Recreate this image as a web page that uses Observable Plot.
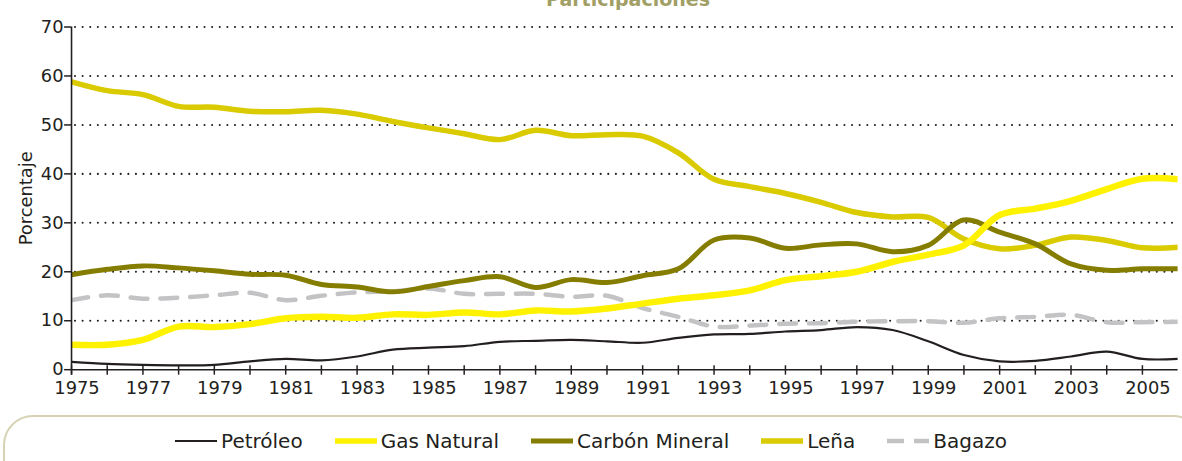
<!DOCTYPE html>
<html>
<head>
<meta charset="utf-8">
<script src="https://cdn.jsdelivr.net/npm/d3@7"></script>
<script src="https://cdn.jsdelivr.net/npm/@observablehq/plot@0.6"></script>
<style>
  html, body { margin: 0; padding: 0; background: #fff; overflow: hidden; width: 1182px; height: 461px; }
  #wrap { position: relative; width: 1182px; height: 461px; overflow: hidden; font-family: "DejaVu Sans", sans-serif; }
  #title { position: absolute; left: 0; width: 1256px; top: -10px; text-align: center; font-weight: bold; font-size: 19px; line-height: 19px; color: #a29f66; }
  #chart { position: absolute; left: 0; top: 0; }
  #legendBox { position: absolute; left: 3px; top: 415px; width: 1200px; height: 100px; box-sizing: border-box; border: 2.5px solid #d6d3b5; border-radius: 30px; }
  #legend { position: absolute; left: 0; top: 428px; width: 1182px; height: 26px; display: flex; justify-content: center; align-items: center; font-size: 20px; color: #231f20; }
  .item { display: flex; align-items: center; margin: 0 16px; }
  .item svg { margin-right: 4px; }
</style>
</head>
<body>
<div id="wrap">
  <div id="chart"></div>
  <div id="title">Participaciones</div>
  <div id="legendBox"></div>
  <div id="legend"></div>
</div>
<script>
// ---- data ----
const years = [1975,1976,1977,1978,1979,1980,1981,1982,1983,1984,1985,1986,1987,1988,1989,1990,
               1991,1992,1993,1994,1995,1996,1997,1998,1999,2000,2001,2002,2003,2004,2005,2006];
const petroleo      = [1.6,1.2,1.0,0.9,1.0,1.7,2.2,1.9,2.7,4.1, 4.5,4.8,5.7,5.9,6.1,5.8,5.5,6.5,7.2,7.3, 7.8,8.1,8.7,8.1,5.8,3.0,1.7,1.8,2.7,3.7, 2.2,2.2];
const gasNatural    = [5.1,5.1,6.1,8.8,8.7,9.3,10.5,10.8,10.6,11.3, 11.2,11.7,11.3,12.1,11.9,12.5,13.5,14.5,15.2,16.2, 18.3,19.1,20.0,22.0,23.5,25.4,31.6,32.9,34.5,36.9, 39.0,38.9];
const carbonMineral = [19.4,20.5,21.2,20.8,20.2,19.5,19.3,17.4,16.9,15.9, 17.0,18.2,19.0,16.8,18.4,17.8,19.2,20.6,26.5,26.9, 24.8,25.5,25.7,24.1,25.4,30.6,28.1,25.7,21.6,20.3, 20.6,20.6];
const lena          = [58.8,57.0,56.2,53.8,53.6,52.8,52.7,53.0,52.2,50.7, 49.4,48.2,47.0,48.9,47.8,48.0,47.7,44.3,38.9,37.4, 36.0,34.2,32.1,31.2,31.1,26.7,24.7,25.4,27.1,26.4, 24.9,25.0];
const bagazo        = [14.2,15.2,14.5,14.7,15.2,15.7,14.2,15.1,15.8,16.0, 16.6,15.5,15.5,15.5,14.9,15.1,12.6,10.8,8.8,9.0, 9.4,9.5,9.8,9.9,9.9,9.6,10.5,10.8,11.2,9.7, 9.7,9.8];
const seriesNames   = ["Petróleo", "Gas Natural", "Carbón Mineral", "Leña", "Bagazo"];
const yTicks        = [0,10,20,30,40,50,60,70];
const gridValues    = [10,20,30,40,50,60,70];
const xTickYears    = years.slice(0, 31);
const xLabelYears   = [1975,1977,1979,1981,1983,1985,1987,1989,1991,1993,1995,1997,1999,2001,2003,2005];

// ---- styles ----
const valuesBySeries = {"Petróleo": petroleo, "Gas Natural": gasNatural, "Carbón Mineral": carbonMineral, "Leña": lena, "Bagazo": bagazo};
const styles = {
  "Petróleo":       {stroke: "#231f20", strokeWidth: 2.2},
  "Gas Natural":    {stroke: "#fff200", strokeWidth: 6.5},
  "Carbón Mineral": {stroke: "#857d00", strokeWidth: 5},
  "Leña":           {stroke: "#dacb00", strokeWidth: 5.5},
  "Bagazo":         {stroke: "#c3c3c5", strokeWidth: 4.5, strokeDasharray: "17,13"}
};
const drawOrder = ["Bagazo", "Petróleo", "Leña", "Carbón Mineral", "Gas Natural"];

const rows = seriesNames.flatMap(name => years.map((year, i) => ({series: name, year, value: valuesBySeries[name][i]})));

const ink = "#231f20";
const lineMarks = drawOrder.map(name => Plot.line(rows.filter(r => r.series === name), {
  x: "year", y: "value", curve: "catmull-rom", clip: true, strokeLinejoin: "round", ...styles[name]
}));

const chart = Plot.plot({
  width: 1190,
  height: 410,
  marginLeft: 71.5,
  marginRight: 4.4,
  marginTop: 26.7,
  marginBottom: 38.3,
  x: {domain: [1975, 2006]},
  y: {domain: [0, 70]},
  style: {fontFamily: "DejaVu Sans", color: ink, background: "transparent", overflow: "visible"},
  marks: [
    Plot.ruleY(gridValues, {stroke: ink, strokeWidth: 2.1, strokeDasharray: "0,7.67", strokeLinecap: "round", insetLeft: 4}),
    ...lineMarks,
    Plot.ruleY([0], {stroke: ink, strokeWidth: 1.6}),
    Plot.ruleX([1975], {y1: 70, y2: 0, insetBottom: -5.5, stroke: ink, strokeWidth: 1.6}),
    Plot.ruleX(xTickYears, {x: d => d, y1: 0, y2: 0, insetTop: -4, insetBottom: -5.5, stroke: ink, strokeWidth: 1.5}),
    Plot.axisY({ticks: yTicks, tickSize: 7, tickPadding: 1, fontSize: 18, label: null, strokeWidth: 1.5}),
    Plot.axisX({ticks: xLabelYears, tickSize: 0, tickPadding: 12, fontSize: 18, tickFormat: d => String(d), label: null, dx: 5.5}),
    Plot.text(["Porcentaje"], {frameAnchor: "left", textAnchor: "middle", rotate: -90, dx: -46, fontSize: 18, fill: ink})
  ]
});
document.getElementById("chart").append(chart);

// ---- legend ----
const legend = document.getElementById("legend");
for (const name of seriesNames) {
  const s = styles[name];
  const item = document.createElement("div");
  item.className = "item";
  item.innerHTML = `<svg width="42" height="12"><line x1="0" x2="42" y1="6" y2="6" stroke="${s.stroke}" stroke-width="${Math.min(s.strokeWidth, 5.5)}" ${s.strokeDasharray ? 'stroke-dasharray="17,10"' : ''}/></svg><span>${name}</span>`;
  legend.append(item);
}
</script>
</body>
</html>
